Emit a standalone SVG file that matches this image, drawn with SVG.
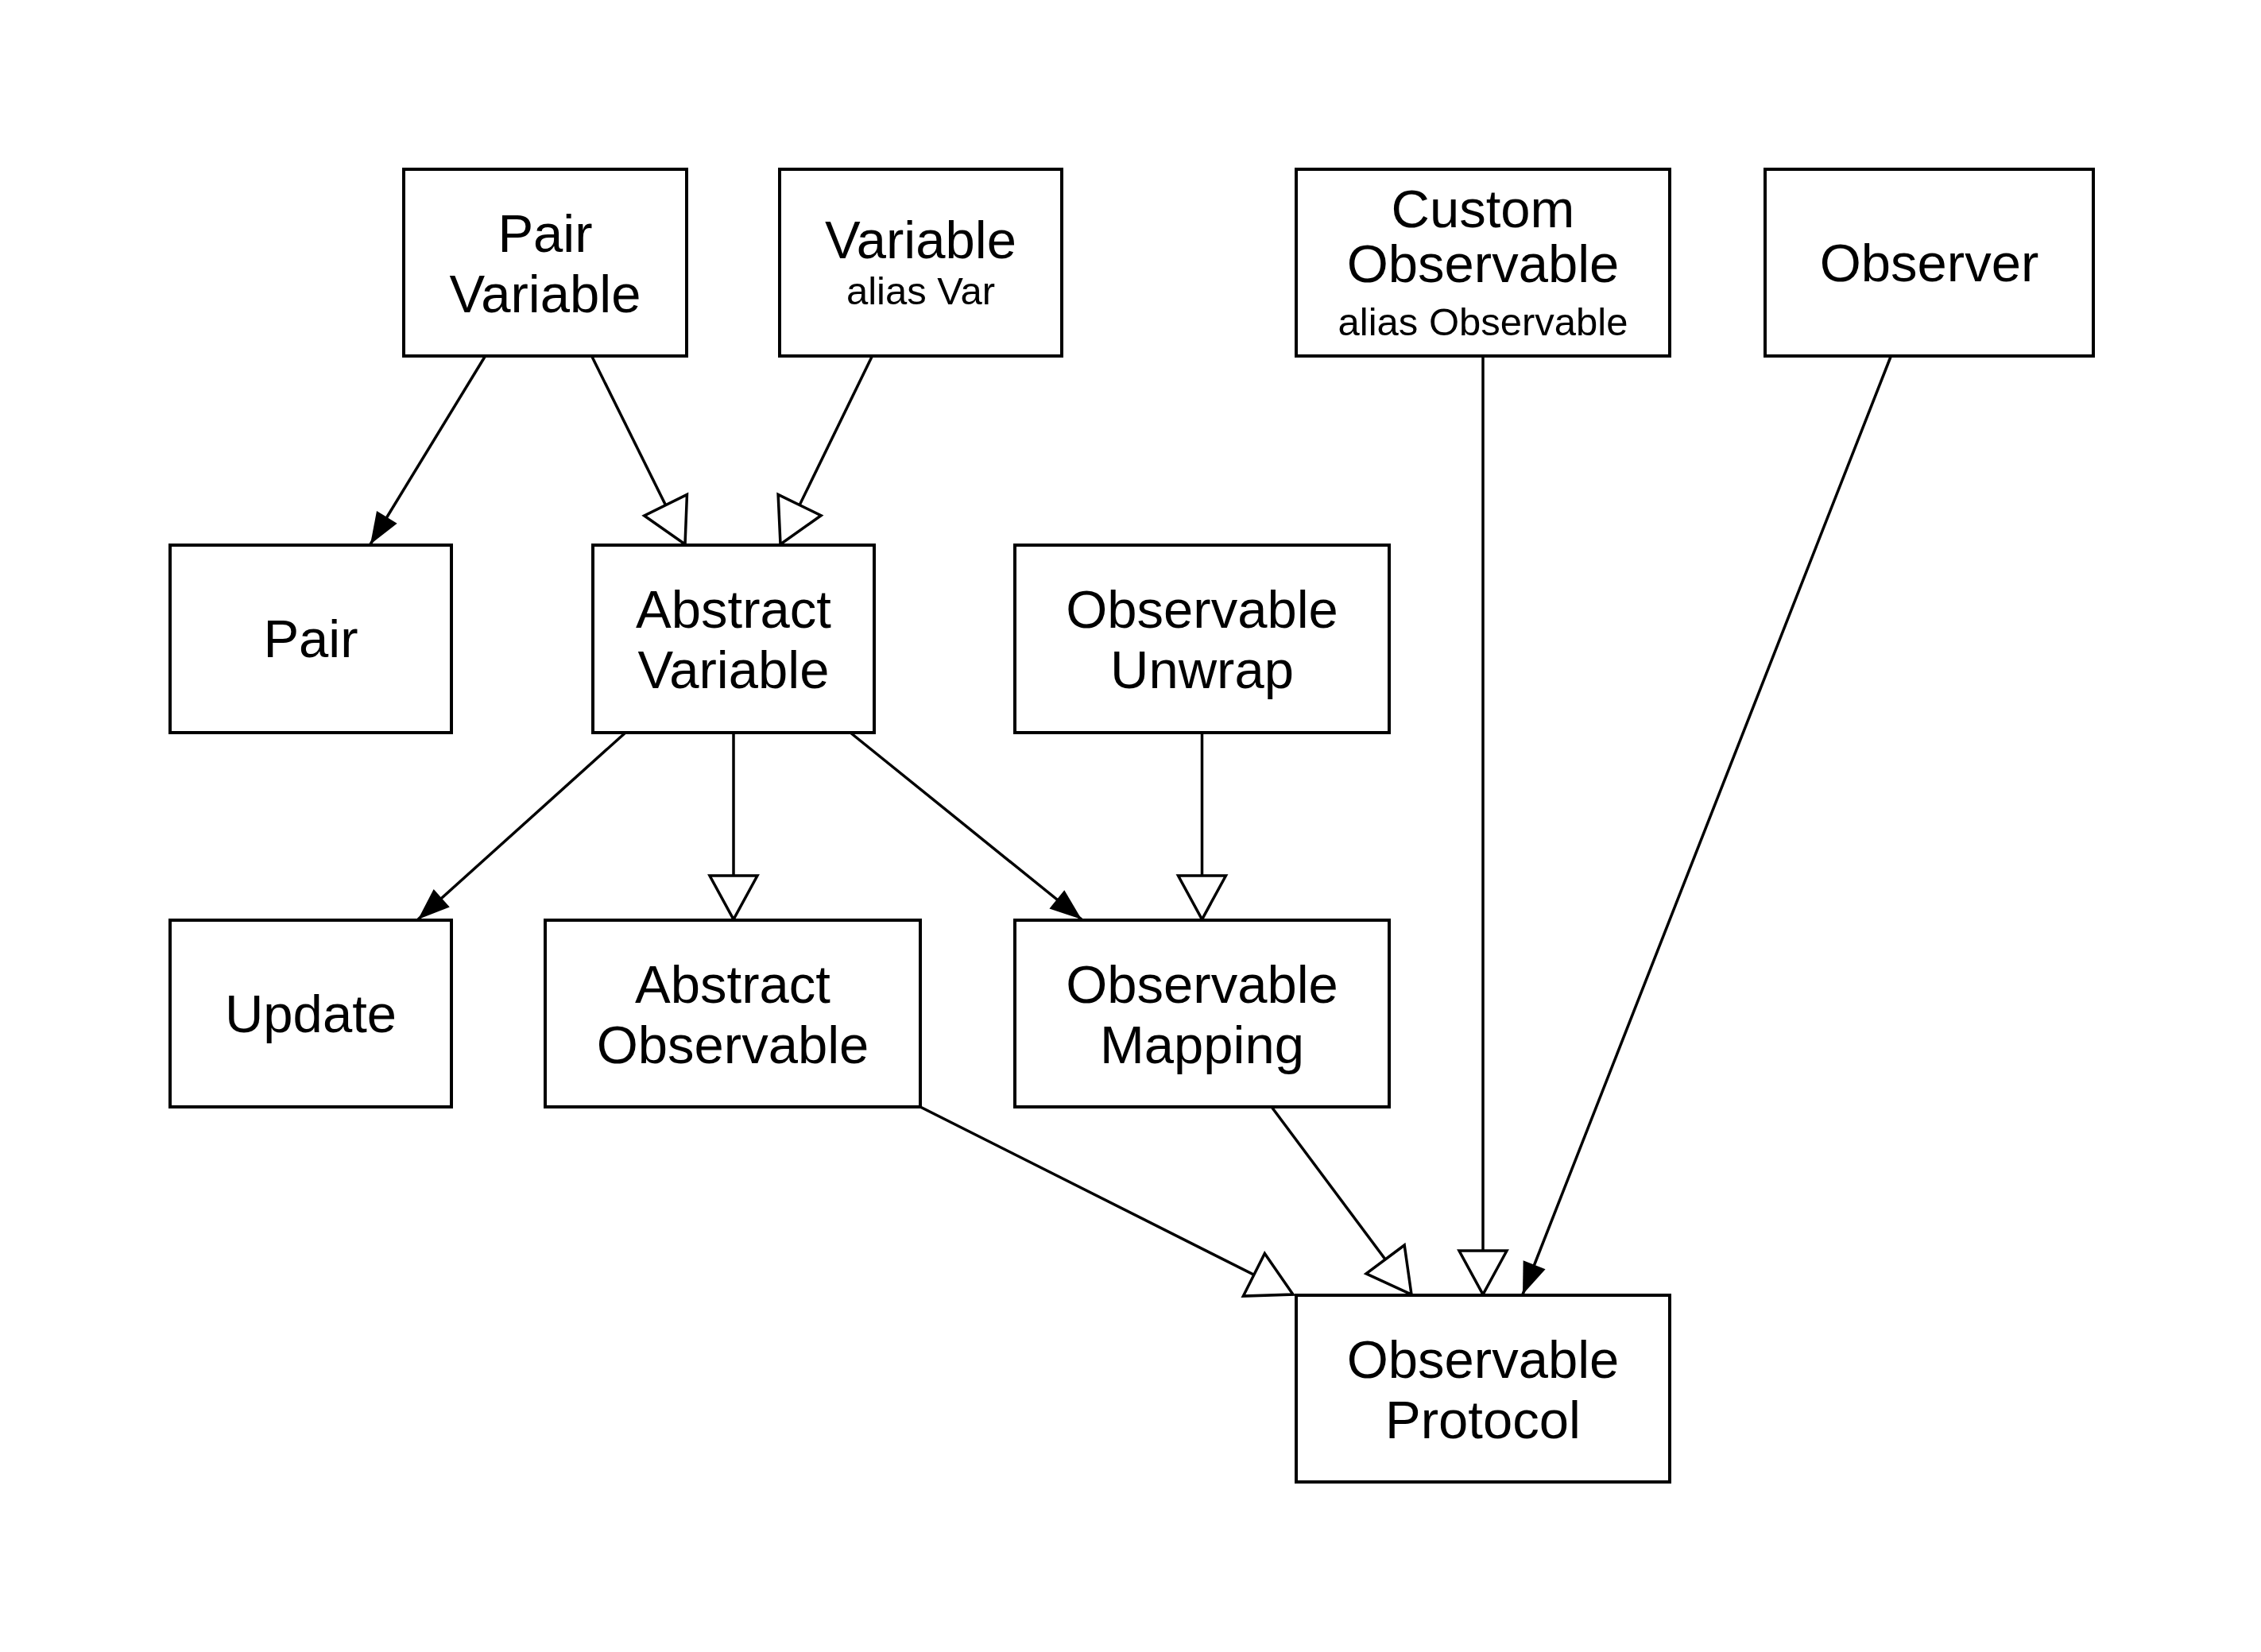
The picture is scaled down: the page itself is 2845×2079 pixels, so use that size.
<svg xmlns="http://www.w3.org/2000/svg" width="2845" height="2079" viewBox="0 0 2845 2079">
<style>
.box{fill:#fff;stroke:#000;stroke-width:4}
.t{font-family:"Liberation Sans",Arial,Helvetica,sans-serif;font-size:67px;text-anchor:middle;fill:#000}
.s{font-family:"Liberation Sans",Arial,Helvetica,sans-serif;font-size:49px;text-anchor:middle;fill:#000}
.e{fill:none;stroke:#000;stroke-width:3.5}
.inh{marker-end:url(#hollow)}
.assoc{marker-end:url(#filled)}
</style>
<defs>
<marker id="filled" markerUnits="userSpaceOnUse" markerWidth="44" markerHeight="34" refX="40" refY="15" orient="auto" overflow="visible">
<path d="M0,0 L40,15 L0,30 z" fill="#000" stroke="none"/>
</marker>
<marker id="hollow" markerUnits="userSpaceOnUse" markerWidth="62" markerHeight="66" refX="55" refY="30" orient="auto" overflow="visible">
<path d="M0,0 L55,30 L0,60 z" fill="#fff" stroke="#000" stroke-width="3.5"/>
</marker>
</defs>
<rect width="2845" height="2079" fill="#fff"/>
<g id="connectors">
<line class="e assoc" x1="610" y1="449" x2="466" y2="685"/>
<line class="e inh" x1="745" y1="449" x2="862" y2="685"/>
<line class="e inh" x1="1097" y1="449" x2="982" y2="685"/>
<line class="e assoc" x1="787" y1="922" x2="526" y2="1157"/>
<line class="e inh" x1="923" y1="922" x2="923" y2="1157"/>
<line class="e assoc" x1="1070" y1="922" x2="1361" y2="1157"/>
<line class="e inh" x1="1512.5" y1="922" x2="1512.5" y2="1157"/>
<line class="e inh" x1="1158" y1="1393" x2="1627" y2="1629"/>
<line class="e inh" x1="1600" y1="1393" x2="1776" y2="1629"/>
<line class="e inh" x1="1866" y1="448" x2="1866" y2="1629"/>
<line class="e assoc" x1="2379" y1="449" x2="1916" y2="1629"/>
</g>
<g id="pair-variable">
<rect class="box" x="508" y="213" width="356" height="235"/>
<text class="t" x="686" y="317">Pair</text>
<text class="t" x="686" y="393">Variable</text>
</g>
<g id="variable">
<rect class="box" x="981" y="213" width="355" height="235"/>
<text class="t" x="1158.5" y="325">Variable</text>
<text class="s" x="1158.5" y="383">alias Var</text>
</g>
<g id="custom-observable">
<rect class="box" x="1631" y="213" width="470" height="235"/>
<text class="t" x="1866" y="286">Custom</text>
<text class="t" x="1866" y="355">Observable</text>
<text class="s" x="1866" y="422">alias Observable</text>
</g>
<g id="observer">
<rect class="box" x="2221" y="213" width="413" height="235"/>
<text class="t" x="2427.5" y="354">Observer</text>
</g>
<g id="pair">
<rect class="box" x="214" y="686" width="354" height="236"/>
<text class="t" x="391" y="827">Pair</text>
</g>
<g id="abstract-variable">
<rect class="box" x="746" y="686" width="354" height="236"/>
<text class="t" x="923" y="790">Abstract</text>
<text class="t" x="923" y="866">Variable</text>
</g>
<g id="observable-unwrap">
<rect class="box" x="1277" y="686" width="471" height="236"/>
<text class="t" x="1512.5" y="790">Observable</text>
<text class="t" x="1512.5" y="866">Unwrap</text>
</g>
<g id="update">
<rect class="box" x="214" y="1158" width="354" height="235"/>
<text class="t" x="391" y="1299">Update</text>
</g>
<g id="abstract-observable">
<rect class="box" x="686" y="1158" width="472" height="235"/>
<text class="t" x="922" y="1262">Abstract</text>
<text class="t" x="922" y="1338">Observable</text>
</g>
<g id="observable-mapping">
<rect class="box" x="1277" y="1158" width="471" height="235"/>
<text class="t" x="1512.5" y="1262">Observable</text>
<text class="t" x="1512.5" y="1338">Mapping</text>
</g>
<g id="observable-protocol">
<rect class="box" x="1631" y="1630" width="470" height="235"/>
<text class="t" x="1866" y="1734">Observable</text>
<text class="t" x="1866" y="1810">Protocol</text>
</g>
</svg>
